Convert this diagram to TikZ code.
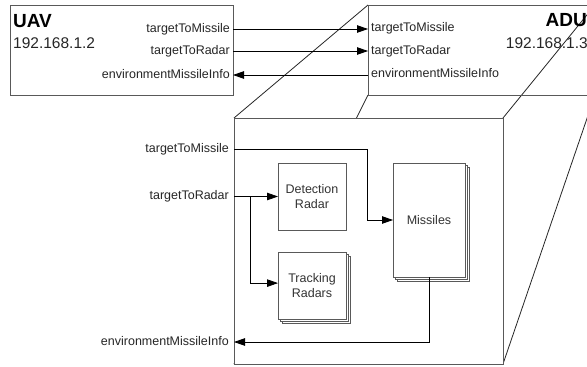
\documentclass[tikz,border=0pt]{standalone}
\usepackage{fontspec}
\setmainfont{Liberation Sans}
\usetikzlibrary{arrows.meta,shadows,backgrounds}
\begin{document}
\begin{tikzpicture}[x=1pt,y=-1pt,
  box/.style={draw=black!65, line width=1pt, fill=white, inner sep=0pt, outer sep=0pt, anchor=north west},
  stack/.style={box, double copy shadow={shadow xshift=2.4pt, shadow yshift=-2.4pt}},
  conn/.style={line width=0.8pt, draw=black},
  arr/.style={conn, -{Triangle[length=11pt,width=7.5pt]}},
  edge3d/.style={line width=0.8pt, draw=black!85},
  port/.style={font=\fontsize{12.5}{14.5}\selectfont, text=black!85, inner sep=0pt, text height=9pt, text depth=2.6pt},
  lbl/.style={font=\fontsize{12.5}{14.5}\selectfont, text=black!80, align=center},
  ip/.style={font=\fontsize{15.5}{18}\selectfont, text=black!85, inner sep=0pt},
  title/.style={font=\fontsize{19}{22}\bfseries\selectfont, text=black, inner sep=0pt}]

\useasboundingbox (0,0) rectangle (587,367);
\clip (0,0) rectangle (587,367);

% UAV host
\node[box, minimum width=223pt, minimum height=90pt] (uav) at (10,5) {};
\node[title, anchor=base west] (uavname) at (13,27) {UAV};
\node[ip, anchor=base west] (uavip) at (13,48) {192.168.1.2};
\node[port, anchor=east] (uTM) at (230,29) {targetToMissile};
\node[port, anchor=east] (uTR) at (230,51) {targetToRadar};
\node[port, anchor=east] (uEI) at (230,75) {environmentMissileInfo};

% ADU host (back face of the box)
\node[box, fill=none, minimum width=227pt, minimum height=90pt] (adu) at (368,5) {};
\node[title, anchor=base east] (aduname) at (587,26) {ADU};
\node[ip, anchor=base east] (aduip) at (588,48) {192.168.1.3};
\node[port, anchor=west] (aTM) at (371,28) {targetToMissile};
\node[port, anchor=west] (aTR) at (371,51) {targetToRadar};
\node[port, anchor=west] (aEI) at (371,74) {environmentMissileInfo};

% messages between the hosts
\draw[arr] (uav.east |- uTM) -- (adu.west |- uTM);
\draw[arr] (uav.east |- uTR) -- (adu.west |- uTR);
\draw[arr] (adu.west |- uEI) -- (uav.east |- uEI);

% front face of the ADU box
\node[box, minimum width=269pt, minimum height=246pt] (front) at (234,118) {};

% receding edges, behind the front face
\begin{scope}[on background layer]
  \fill[white] (0,0) rectangle (587,367);
  \draw[edge3d] (front.north west) -- (adu.north west);
  \draw[edge3d] (front.north east) -- (adu.north east);
  \draw[edge3d] (front.south east) -- (adu.south east);
  \draw[edge3d] (front.south west) -- (adu.south west);
\end{scope}

% ADU internals
\node[box, lbl, minimum width=68pt, minimum height=67pt] (det) at (278,163) {Detection\\Radar};
\node[stack, lbl, minimum width=68pt, minimum height=67pt] (trk) at (278,252) {Tracking\\Radars};
\node[stack, lbl, minimum width=72pt, minimum height=114pt] (mis) at (393,163) {Missiles};

\node[port, anchor=east] (fTM) at (229,149) {targetToMissile};
\node[port, anchor=east] (fTR) at (229,196.5) {targetToRadar};
\node[port, anchor=east] (fEI) at (229,342) {environmentMissileInfo};

\draw[arr] (front.west |- fTM) -| ([xshift=-26pt]mis.west) -- (mis.west);
\draw[arr] (front.west |- det.west) -- (det.west);
\coordinate (split) at ([xshift=16pt]front.west |- det.west);
\draw[arr] (split) |- ([yshift=2.4pt]trk.west);
\draw[arr] (mis.south) |- (front.west |- fEI);
\end{tikzpicture}
\end{document}
